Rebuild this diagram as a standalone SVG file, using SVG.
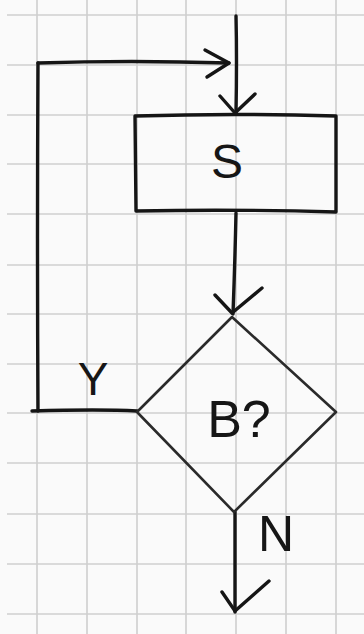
<svg xmlns="http://www.w3.org/2000/svg" width="364" height="634" viewBox="0 0 364 634">
<style>
.grid line{stroke:#cfcfcf;stroke-width:1.6}
.ink{fill:none;stroke:#151515;stroke-width:3.4;stroke-linecap:round;stroke-linejoin:round}
.thin{fill:none;stroke:#2a2a2a;stroke-width:2.6;stroke-linecap:round;stroke-linejoin:round}
.lbl{font-family:"Liberation Sans","DejaVu Sans",sans-serif;fill:#161616;text-anchor:middle}
</style>
<rect width="364" height="634" fill="#fafafa"/>
<g class="grid">
<line x1="37" y1="0" x2="37" y2="634"/><line x1="87" y1="0" x2="87" y2="634"/><line x1="137" y1="0" x2="137" y2="634"/><line x1="186" y1="0" x2="186" y2="634"/><line x1="236" y1="0" x2="236" y2="634"/><line x1="286" y1="0" x2="286" y2="634"/><line x1="336" y1="0" x2="336" y2="634"/>
<line x1="7" y1="15" x2="364" y2="15"/><line x1="7" y1="65" x2="364" y2="65"/><line x1="7" y1="115" x2="364" y2="115"/><line x1="7" y1="164" x2="364" y2="164"/><line x1="7" y1="214" x2="364" y2="214"/><line x1="7" y1="265" x2="364" y2="265"/><line x1="7" y1="314" x2="364" y2="314"/><line x1="7" y1="364" x2="364" y2="364"/><line x1="7" y1="413" x2="364" y2="413"/><line x1="7" y1="463" x2="364" y2="463"/><line x1="7" y1="514" x2="364" y2="514"/><line x1="7" y1="564" x2="364" y2="564"/><line x1="7" y1="614" x2="364" y2="614"/>
</g>
<g id="connectors">
<path class="ink" d="M236 16 Q237 60 236 113"/>
<path class="ink" d="M220 96 L235 113 L255 94"/>
<path class="ink" d="M137 411 Q100 409 32 411"/>
<path class="ink" d="M38 411 Q37 240 38 63"/>
<path class="ink" d="M38 63 Q130 60 229 63"/>
<path class="ink" d="M205 50 L229 63 L207 77"/>
<path class="ink" d="M236 213 Q235 260 233 314"/>
<path class="ink" d="M215 295 L232 313 L262 288"/>
<path class="ink" d="M235 512 Q235 560 235 612"/>
<path class="ink" d="M222 592 L235 611 L269 581"/>
<text class="lbl" x="93" y="395" font-size="46">Y</text>
<text class="lbl" x="276" y="551" font-size="50">N</text>
</g>
<g id="node-S">
<path class="ink" d="M135 116 Q235 113 336 116 L336 212 Q235 209 136 211 Z"/>
<text class="lbl" x="227" y="178" font-size="48">S</text>
</g>
<g id="node-B">
<path class="thin" d="M232 317 L336 412 L234 512 L137 412 Z"/>
<text class="lbl" x="239" y="437" font-size="52">B?</text>
</g>
</svg>
